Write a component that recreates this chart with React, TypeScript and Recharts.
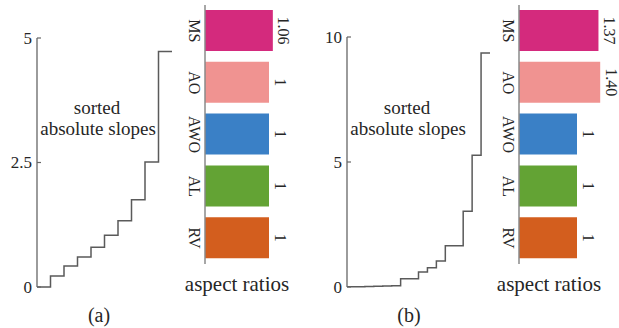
import React from "react";
import { LineChart, Line, XAxis, YAxis, BarChart, Bar, Cell, LabelList } from "recharts";

// sorted absolute slopes, one value per step (last value repeated to close the final step)
const slopesA = [0, 0.22, 0.42, 0.6, 0.8, 1.04, 1.33, 1.75, 2.51, 4.73, 4.73];
const slopesB = [0.01, 0.01, 0.02, 0.03, 0.04, 0.05, 0.33, 0.33, 0.6, 0.77, 1.04, 1.65, 1.65, 3.03, 5.27, 9.36, 9.36];
const ticksA = [0, 2.5, 5];
const ticksB = [0, 5, 10];

// aspect ratios per method
const methods = ["MS", "AO", "AWO", "AL", "RV"];
const methodColors = ["#d42a7d", "#f09391", "#3a80c6", "#63a334", "#d35e1e"];
const ratiosA = [1.06, 1, 1, 1, 1];
const ratioLabelsA = ["1.06", "1", "1", "1", "1"];
const ratiosB = [1.37, 1.4, 1, 1, 1];
const ratioLabelsB = ["1.37", "1.40", "1", "1", "1"];

const serif = "'Liberation Serif', 'Times New Roman', serif";
const ink = "#262626";

const stepData = (vals: number[]) => vals.map((v, i) => ({ i, v }));
const barData = (vals: number[], labels: string[]) =>
  methods.map((name, k) => ({ name, value: vals[k], label: labels[k] }));

function NumTick(props: any) {
  const { x, y, payload } = props;
  return (
    <g>
      <line x1={x + 5} x2={x + 9} y1={y} y2={y} stroke="#666" strokeWidth={1.2} />
      <text x={x} y={y} textAnchor="end" dominantBaseline="central" fontFamily={serif} fontSize={17} fill={ink}>
        {String(payload.value)}
      </text>
    </g>
  );
}

function CatTick(props: any) {
  const { x, y, payload } = props;
  return (
    <text x={x} y={y} transform={`rotate(90 ${x} ${y})`} textAnchor="middle" dominantBaseline="central" fontFamily={serif} fontSize={16} fill={ink}>
      {payload.value}
    </text>
  );
}

function ValueLabel(props: any) {
  const { x, y, width, height, value } = props;
  const cx = x + width + 11;
  const cy = y + height / 2;
  return (
    <text x={cx} y={cy} transform={`rotate(90 ${cx} ${cy})`} textAnchor="middle" dominantBaseline="central" fontFamily={serif} fontSize={16} fill={ink}>
      {value}
    </text>
  );
}

function Panel({ left, slopes, ticks, yMax, top, ratios, labels, barMax, barW, axisW, tag }: any) {
  const data = stepData(slopes);
  const bars = barData(ratios, labels);
  const n = slopes.length - 1;
  const lineW = left === 0 ? 174 : 182;
  return (
    <>
      <div style={{ position: "absolute", left, top: 0 }}>
        <LineChart width={lineW} height={300} data={data} margin={{ top, right: 2, bottom: 13, left: 0 }}>
          <XAxis dataKey="i" type="number" domain={[0, n]} hide />
          <YAxis
            domain={[0, yMax]}
            ticks={ticks}
            interval={0}
            width={37}
            tickSize={0}
            tickMargin={5}
            tickLine={false}
            tick={(p: any) => <NumTick {...p} />}
            axisLine={{ stroke: "#666", strokeWidth: 1.3 }}
          />
          <Line type="stepAfter" dataKey="v" stroke="#5a5a5a" strokeWidth={1.5} dot={false} isAnimationActive={false} />
        </LineChart>
      </div>
      <div style={{ position: "absolute", left: left + 170, top: 0 }}>
        <BarChart layout="vertical" width={axisW + barW + 25} height={270} data={bars} margin={{ top: 5, right: 25, bottom: 6, left: 0 }}>
          <XAxis type="number" domain={[0, barMax]} hide allowDataOverflow />
          <YAxis
            type="category"
            dataKey="name"
            width={axisW}
            interval={0}
            tickSize={0}
            tickMargin={11}
            tickLine={false}
            tick={(p: any) => <CatTick {...p} />}
            axisLine={{ stroke: "#8a8a8a", strokeWidth: 1.5 }}
          />
          <Bar dataKey="value" barSize={41} isAnimationActive={false}>
            {bars.map((d, k) => (
              <Cell key={d.name} fill={methodColors[k]} />
            ))}
            <LabelList dataKey="label" content={(p: any) => <ValueLabel {...p} />} />
          </Bar>
        </BarChart>
      </div>
      <Caption x={left + 97} y={107} size={19}>sorted</Caption>
      <Caption x={left + 98} y={128} size={19}>absolute slopes</Caption>
      <Caption x={left + 170 + axisW + 2 + (left === 0 ? 30 : 28)} y={284} size={21}>aspect ratios</Caption>
      <Caption x={left + 99} y={315} size={20}>{tag}</Caption>
    </>
  );
}

function Caption({ x, y, size, children }: any) {
  return (
    <div
      style={{
        position: "absolute",
        left: x,
        top: y,
        transform: "translate(-50%, -50%)",
        fontFamily: serif,
        fontSize: size,
        color: ink,
        whiteSpace: "nowrap",
        lineHeight: 1,
      }}
    >
      {children}
    </div>
  );
}

export default function App() {
  return (
    <div style={{ position: "absolute", left: 0, top: 0, width: 619, height: 328, background: "#fff", overflow: "hidden" }}>
      <Panel left={0} slopes={slopesA} ticks={ticksA} yMax={5} top={38} ratios={ratiosA} labels={ratioLabelsA} barMax={1.25} barW={80} axisW={35} tag="(a)" />
      <Panel left={310} slopes={slopesB} ticks={ticksB} yMax={10} top={37} ratios={ratiosB} labels={ratioLabelsB} barMax={1.5} barW={87} axisW={39} tag="(b)" />
    </div>
  );
}
